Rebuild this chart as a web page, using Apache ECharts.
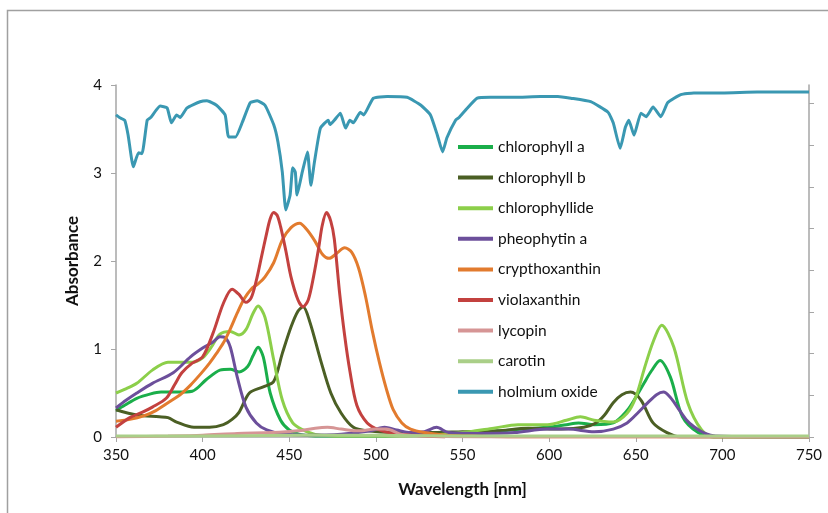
<!DOCTYPE html>
<html>
<head>
<meta charset="utf-8">
<script src="https://cdn.jsdelivr.net/npm/echarts@6/dist/echarts.min.js"></script>
<style>
  html, body { margin: 0; padding: 0; background: #fff; }
  #main { width: 828px; height: 513px; }
</style>
</head>
<body>
<div id="main"></div>
<script>
// wavelength [nm] / absorbance pairs
var chlAWl = [350, 355, 362, 370, 376, 385, 394, 402, 410, 416, 421, 426, 429, 432, 435, 439, 445, 450, 456, 465, 480, 500, 520, 540, 560, 578, 599, 610, 617, 626, 637, 645, 650, 655, 659, 664, 670, 677, 686, 695, 750];
var chlA = [0.30, 0.36, 0.44, 0.49, 0.51, 0.51, 0.52, 0.65, 0.76, 0.77, 0.74, 0.80, 0.92, 1.02, 0.91, 0.50, 0.19, 0.08, 0.03, 0.01, 0.01, 0.01, 0.02, 0.03, 0.05, 0.08, 0.11, 0.14, 0.16, 0.14, 0.16, 0.30, 0.45, 0.62, 0.75, 0.87, 0.68, 0.23, 0.05, 0.0, 0.0];

var chlBWl = [350, 362, 375, 380, 385, 395, 404, 412, 417, 421, 427, 435, 441, 446, 451, 455, 458, 462, 468, 474, 480, 487, 495, 510, 530, 550, 570, 588, 607, 620, 627, 632, 637, 642, 647, 653, 660, 668, 676, 690, 750];
var chlB = [0.31, 0.25, 0.23, 0.22, 0.17, 0.11, 0.11, 0.14, 0.20, 0.28, 0.50, 0.57, 0.63, 0.95, 1.25, 1.43, 1.48, 1.30, 0.88, 0.50, 0.27, 0.11, 0.07, 0.05, 0.05, 0.06, 0.07, 0.10, 0.09, 0.11, 0.16, 0.25, 0.39, 0.48, 0.51, 0.42, 0.16, 0.05, 0.0, 0.0, 0.0];

var chlideWl = [350, 356, 362, 371, 380, 387, 394, 400, 405, 410, 416, 421, 425, 429, 432, 436, 441, 446, 452, 458, 465, 480, 500, 530, 550, 568, 582, 599, 610, 618, 626, 637, 645, 650, 655, 660, 665, 672, 680, 688, 695, 750];
var chlide = [0.50, 0.55, 0.61, 0.76, 0.85, 0.85, 0.85, 0.90, 1.02, 1.17, 1.20, 1.16, 1.22, 1.40, 1.49, 1.36, 0.88, 0.42, 0.16, 0.08, 0.03, 0.01, 0.01, 0.02, 0.05, 0.10, 0.14, 0.14, 0.19, 0.23, 0.19, 0.17, 0.27, 0.45, 0.78, 1.08, 1.27, 1.02, 0.39, 0.08, 0.0, 0.0];

var pheoWl = [350, 356, 362, 371, 383, 393, 400, 406, 410, 413, 416, 420, 425, 431, 437, 445, 460, 480, 497, 505, 512, 520, 528, 535, 542, 560, 580, 599, 611, 626, 637, 645, 651, 657, 662, 666, 670, 674, 679, 684, 690, 696, 750];
var pheo = [0.33, 0.42, 0.50, 0.61, 0.73, 0.91, 1.01, 1.08, 1.14, 1.13, 1.02, 0.68, 0.34, 0.16, 0.08, 0.04, 0.02, 0.03, 0.07, 0.11, 0.08, 0.05, 0.06, 0.11, 0.05, 0.04, 0.05, 0.09, 0.09, 0.06, 0.09, 0.16, 0.27, 0.39, 0.48, 0.51, 0.45, 0.34, 0.20, 0.11, 0.04, 0.01, 0.0];

var cryptoxWl = [350, 358, 366, 373, 380, 387, 393, 399, 404, 408, 412, 416, 420, 424, 428, 432, 436, 441, 446, 451, 456, 460, 465, 469, 473, 477, 482, 486, 490, 494, 498, 502, 506, 510, 515, 520, 528, 540, 555, 580, 750];
var cryptox = [0.18, 0.20, 0.24, 0.30, 0.39, 0.48, 0.59, 0.72, 0.84, 0.95, 1.07, 1.23, 1.41, 1.57, 1.68, 1.74, 1.82, 1.98, 2.24, 2.38, 2.43, 2.36, 2.22, 2.08, 2.03, 2.08, 2.15, 2.10, 1.92, 1.60, 1.20, 0.85, 0.55, 0.31, 0.16, 0.09, 0.05, 0.02, 0.01, 0.0, 0.0];

var violaWl = [350, 358, 365, 371, 379, 384, 388, 394, 400, 406, 412, 417, 421, 425, 428, 431, 434, 437, 439, 441, 443, 445, 448, 451, 455, 458, 461, 464, 467, 469, 471.5, 474, 476, 479, 482, 485, 489, 495, 502, 510, 520, 540];
var viola = [0.11, 0.22, 0.28, 0.34, 0.44, 0.60, 0.73, 0.84, 0.91, 1.18, 1.52, 1.68, 1.62, 1.53, 1.58, 1.78, 2.05, 2.32, 2.48, 2.55, 2.52, 2.39, 2.12, 1.82, 1.56, 1.48, 1.56, 1.82, 2.15, 2.40, 2.55, 2.45, 2.25, 1.65, 1.15, 0.75, 0.36, 0.16, 0.08, 0.04, 0.02, 0.0];

var lycoWl = [350, 380, 400, 420, 440, 455, 465, 472, 480, 490, 500, 506, 515, 530, 560, 750];
var lyco = [0.0, 0.01, 0.02, 0.04, 0.05, 0.07, 0.10, 0.11, 0.09, 0.07, 0.09, 0.09, 0.03, 0.01, 0.0, 0.0];

var caroWl = [350, 400, 450, 500, 550, 600, 650, 700, 750];
var caro = [0.01, 0.01, 0.02, 0.02, 0.01, 0.01, 0.01, 0.01, 0.01];

var holmWl = [350, 352, 355, 357, 360, 363, 365, 368, 370, 375.5, 379.5, 382, 385, 387, 391, 398.5, 402.5, 408, 413, 415, 419, 423, 427.5, 431.5, 436, 441, 443.5, 446, 448, 450.5, 452, 453.5, 454.5, 457.5, 460.5, 462.5, 464.5, 468, 472.5, 473.5, 476, 479.5, 482.5, 485, 487, 491, 493, 498.5, 506.5, 518, 526, 531.5, 535.5, 538.5, 541, 546, 548, 552, 558.5, 566, 580, 595, 605, 612.5, 624, 634, 637, 641, 644, 646, 649, 653, 656, 660, 664.5, 668.5, 676, 683.5, 700, 720, 750];
var holm = [3.66, 3.63, 3.60, 3.43, 3.07, 3.23, 3.22, 3.60, 3.63, 3.76, 3.74, 3.57, 3.66, 3.63, 3.74, 3.81, 3.82, 3.77, 3.66, 3.41, 3.41, 3.58, 3.80, 3.82, 3.77, 3.55, 3.35, 3.01, 2.58, 2.75, 3.06, 3.01, 2.75, 3.01, 3.24, 2.86, 3.12, 3.51, 3.60, 3.55, 3.60, 3.68, 3.51, 3.60, 3.57, 3.69, 3.66, 3.85, 3.87, 3.86, 3.77, 3.66, 3.43, 3.24, 3.40, 3.60, 3.63, 3.72, 3.85, 3.86, 3.86, 3.87, 3.87, 3.85, 3.81, 3.69, 3.57, 3.28, 3.52, 3.60, 3.43, 3.68, 3.64, 3.75, 3.64, 3.80, 3.89, 3.91, 3.91, 3.92, 3.92];

var xTicks = [350, 400, 450, 500, 550, 600, 650, 700, 750];
var yTicks = [0, 1, 2, 3, 4];
var rightTicks = [0, 1, 2, 3, 4, 5, 6, 7, 8];

function pairs(xs, ys) {
    return xs.map(function (x, i) { return [x, ys[i]]; });
}

var seriesDefs = [
    { name: "chlorophyll a", wl: chlAWl, v: chlA, color: "#1aae4a", smooth: 0.3 },
    { name: "chlorophyll b", wl: chlBWl, v: chlB, color: "#4b5f24", smooth: 0.3 },
    { name: "chlorophyllide", wl: chlideWl, v: chlide, color: "#8ccf4a", smooth: 0.3 },
    { name: "pheophytin a", wl: pheoWl, v: pheo, color: "#6c4f9b", smooth: 0.3 },
    { name: "crypthoxanthin", wl: cryptoxWl, v: cryptox, color: "#e27b2e", smooth: 0.3 },
    { name: "violaxanthin", wl: violaWl, v: viola, color: "#c3413f", smooth: 0.3 },
    { name: "lycopin", wl: lycoWl, v: lyco, color: "#d69595", smooth: 0.3 },
    { name: "carotin", wl: caroWl, v: caro, color: "#aacf88", smooth: 0.3 },
    { name: "holmium oxide", wl: holmWl, v: holm, color: "#3a98b2", smooth: 0.15 }
];

var axisGray = "#a6a6a6";
var font = "Lato, 'Liberation Sans', sans-serif";

var chart = echarts.init(document.getElementById("main"), null, { renderer: "canvas" });
chart.setOption({
    animation: false,
    backgroundColor: "#fff",
    graphic: [{
        type: "rect",
        shape: { x: 7.5, y: 10.5, width: 900, height: 600 },
        style: { fill: "none", stroke: "#a0a0a0", lineWidth: 1.5 },
        silent: true
    }],
    grid: { left: 116, right: 19, top: 85, bottom: 76 },
    legend: {
        orient: "vertical",
        left: 458,
        top: 139,
        padding: 0,
        icon: "rect",
        itemWidth: 35,
        itemHeight: 4,
        itemGap: 14.6,
        textStyle: { fontSize: 15.5, color: "#111", fontFamily: font, lineHeight: 16 },
        data: seriesDefs.map(function (s) { return s.name; })
    },
    xAxis: {
        type: "value",
        min: 350, max: 750, interval: 50,
        name: "Wavelength [nm]",
        nameLocation: "middle",
        nameGap: 44,
        nameTextStyle: { fontSize: 17, fontWeight: "bold", color: "#111", fontFamily: font },
        axisLine: { show: true, lineStyle: { color: axisGray, width: 1.5 } },
        axisTick: { show: true, length: 5, lineStyle: { color: axisGray } },
        axisLabel: { fontSize: 15, color: "#111", margin: 11, fontFamily: font,
            customValues: xTicks },
        splitLine: { show: false }
    },
    yAxis: [{
        type: "value",
        min: 0, max: 4, interval: 1,
        name: "Absorbance",
        nameLocation: "middle",
        nameGap: 35,
        nameRotate: 90,
        nameTextStyle: { fontSize: 17, fontWeight: "bold", color: "#111", fontFamily: font },
        axisLine: { show: true, lineStyle: { color: axisGray, width: 1.5 } },
        axisTick: { show: true, length: 5, lineStyle: { color: axisGray } },
        axisLabel: { fontSize: 15, color: "#111", margin: 14, fontFamily: font,
            customValues: yTicks },
        splitLine: { show: false }
    }, {
        type: "value",
        position: "right",
        min: 0, max: 8.44,
        axisLine: { show: true, lineStyle: { color: axisGray, width: 1.5 } },
        axisTick: { show: true, length: 5, lineStyle: { color: axisGray }, customValues: rightTicks },
        axisLabel: { show: false },
        splitLine: { show: false }
    }],
    series: seriesDefs.map(function (s) {
        return {
            name: s.name,
            type: "line",
            yAxisIndex: 0,
            data: pairs(s.wl, s.v),
            smooth: s.smooth,
            showSymbol: false,
            color: s.color,
            lineStyle: { width: 3, color: s.color }
        };
    })
});
</script>
</body>
</html>
